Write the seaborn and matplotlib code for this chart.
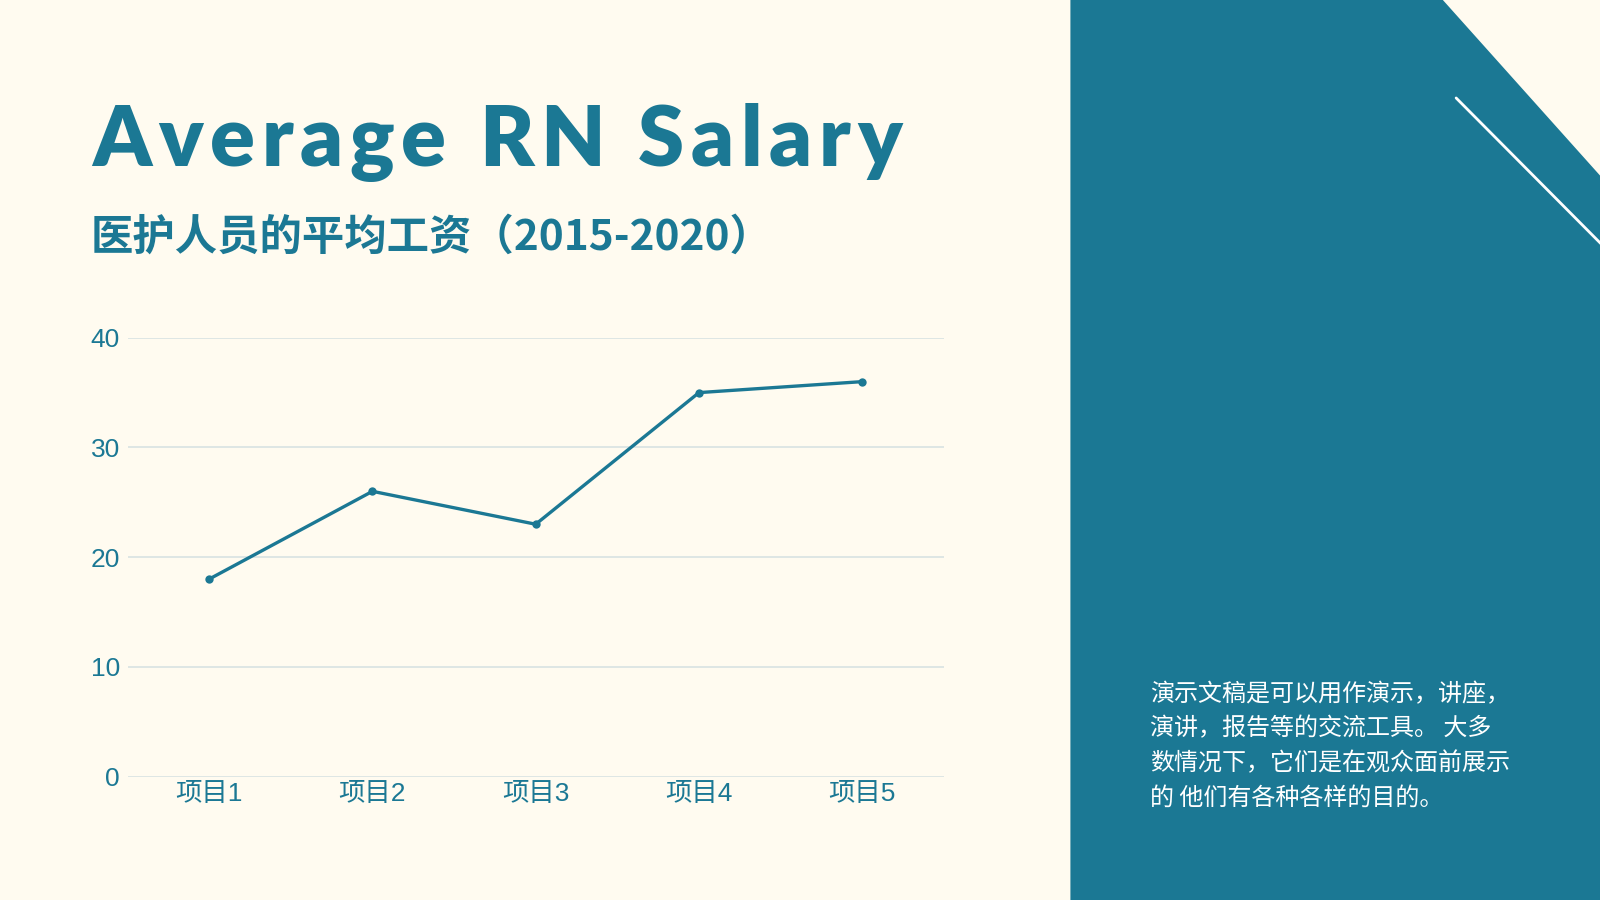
import numpy as np
import pandas as pd
import matplotlib
matplotlib.use('Agg')
import matplotlib.pyplot as plt
from matplotlib.patches import Polygon
from matplotlib.lines import Line2D
import seaborn as sns

# data
items = ['项目1', '项目2', '项目3', '项目4', '项目5']
salary = [18, 26, 23, 35, 36]
y_ticks = [0, 10, 20, 30, 40]

title = 'Average RN Salary'
subtitle = '医护人员的平均工资（2015-2020）'
side_lines = ['演示文稿是可以用作演示，讲座，',
              '演讲，报告等的交流工具。 大多',
              '数情况下，它们是在观众面前展示',
              '的 他们有各种各样的目的。']

teal = '#1b7894'
cream = '#fffbf0'
grid_col = '#d8e2e2'

sns.set_theme(style='white')
plt.rcParams['font.family'] = ['Liberation Sans', 'Noto Sans CJK SC', 'DejaVu Sans']

# reference was laid out in 1568x882 px, convert to figure fractions
W, H = 1568.0, 882.0
def fx(x):
    return x / W
def fy(y):
    return 1 - y / H

fig = plt.figure(figsize=(16, 9), dpi=100, facecolor=cream)
renderer = fig.canvas.get_renderer()

# right hand panel with the cut corner
panel = Polygon([(fx(1049), fy(882)), (fx(1049), fy(0)), (fx(1414), fy(0)),
                 (fx(1568), fy(172)), (fx(1568), fy(882))],
                closed=True, transform=fig.transFigure, facecolor=teal,
                edgecolor='none', zorder=0)
fig.add_artist(panel)
fig.add_artist(Line2D([fx(1427), fx(1580)], [fy(96), fy(250)],
                      transform=fig.transFigure, color='white', lw=2))

# big title, drawn letter by letter to get the wide tracking
title_kw = dict(color=teal, fontsize=60, fontweight='heavy',
                family=['Lato', 'DejaVu Sans'], va='baseline', ha='left')

def text_w(s):
    t = fig.text(0, 0, s, **title_kw)
    w = t.get_window_extent(renderer).width
    t.remove()
    return w

space_w = text_w('a a') - text_w('aa')
adv = [space_w if c == ' ' else text_w(c) for c in title]
target = (fx(884) - fx(90)) * 1600
track = (target - sum(adv)) / (len(title) - 1)
x = fx(90) * 1600
for c, w in zip(title, adv):
    if c != ' ':
        fig.text(x / 1600, fy(163), c, **title_kw)
    x += w + track

fig.text(fx(89), fy(245), subtitle, color=teal, fontsize=30.5, fontweight='bold',
         family=['Noto Sans CJK SC', 'DejaVu Sans'], va='baseline', ha='left')

# side text
for i, line in enumerate(side_lines):
    fig.text(fx(1127), fy(680 + 34 * i), line, color='white', fontsize=17.3,
             family=['Noto Sans CJK SC', 'DejaVu Sans'], va='center', ha='left')

# chart
ax = fig.add_axes([fx(125), fy(761), fx(925) - fx(125), fy(331) - fy(761)])
ax.set_facecolor('none')
df = pd.DataFrame({'item': items, 'salary': salary})
sns.lineplot(data=df, x='item', y='salary', sort=False, color=teal, lw=2.4,
             marker='o', markersize=6, markeredgewidth=0, ax=ax)

ax.set_xlim(-0.5, len(items) - 0.5)
ax.set_ylim(0, 40)
ax.set_yticks(y_ticks)
ax.yaxis.grid(True, color=grid_col, lw=1.2)
ax.xaxis.grid(False)
for s in ax.spines.values():
    s.set_visible(False)
ax.tick_params(axis='y', length=0, pad=5.5, labelsize=19, labelcolor=teal)
ax.tick_params(axis='x', length=0, pad=4, labelsize=19, labelcolor=teal)
ax.set_xlabel('')
ax.set_ylabel('')

fig.savefig('out.png', dpi=100, facecolor=cream)
